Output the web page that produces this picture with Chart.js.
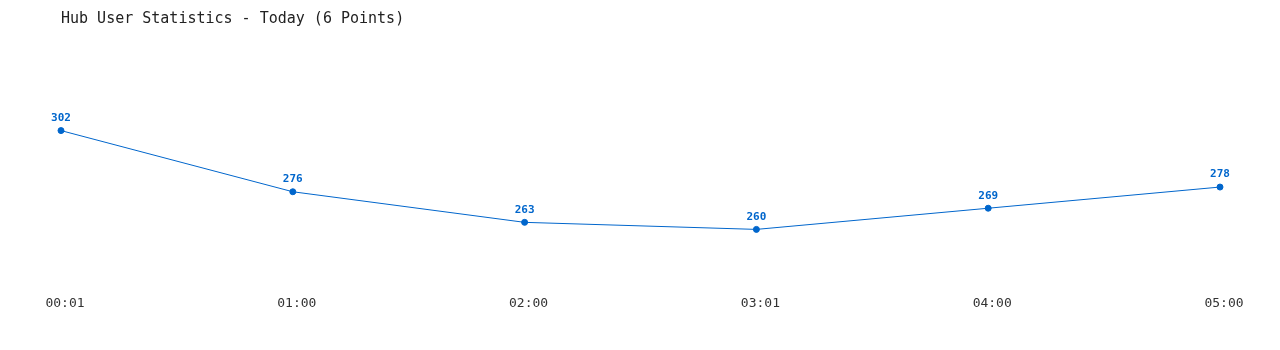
<!DOCTYPE html>
<html>
<head>
<meta charset="utf-8">
<title>Hub User Statistics</title>
<script src="https://cdn.jsdelivr.net/npm/chart.js@4/dist/chart.umd.min.js"></script>
<style>
  html, body { margin: 0; padding: 0; background: #fff; }
  #wrap { width: 1280px; height: 350px; }
</style>
</head>
<body>
<div id="wrap"><canvas id="hubChart" width="1280" height="350"></canvas></div>
<script>
// chart data
const timeLabels = ['00:01', '01:00', '02:00', '03:01', '04:00', '05:00'];
const userCounts = [302, 276, 263, 260, 269, 278];
const chartTitle = 'Hub User Statistics - Today (6 Points)';

const LINE_BLUE = '#0066cc';

// draws the value above each point
const pointValues = {
  id: 'pointValues',
  afterDatasetsDraw(chart) {
    const ctx = chart.ctx;
    const meta = chart.getDatasetMeta(0);
    ctx.save();
    ctx.font = 'bold 11px "DejaVu Sans Mono", monospace';
    ctx.fillStyle = LINE_BLUE;
    ctx.textAlign = 'center';
    ctx.textBaseline = 'bottom';
    meta.data.forEach((pt, i) => {
      ctx.fillText(String(userCounts[i]), pt.x, pt.y - 7);
    });
    ctx.restore();
  }
};

const ctx = document.getElementById('hubChart').getContext('2d');
new Chart(ctx, {
  type: 'line',
  data: {
    labels: timeLabels,
    datasets: [{
      data: userCounts,
      borderColor: LINE_BLUE,
      backgroundColor: LINE_BLUE,
      borderWidth: 1,
      pointRadius: 3,
      pointHoverRadius: 3,
      tension: 0,
      fill: false
    }]
  },
  options: {
    responsive: false,
    animation: false,
    layout: {
      padding: { left: 61, right: 60, top: 0, bottom: 33 }
    },
    plugins: {
      legend: { display: false },
      tooltip: { enabled: false },
      title: {
        display: true,
        text: chartTitle,
        align: 'start',
        color: '#222',
        font: { family: '"DejaVu Sans Mono", monospace', size: 15, weight: 'normal' },
        padding: { top: 10, bottom: 36 }
      }
    },
    scales: {
      x: {
        offset: false,
        grid: { display: false },
        border: { display: false },
        ticks: {
          color: '#333',
          padding: 6,
          labelOffset: 4,
          maxRotation: 0,
          font: { family: '"DejaVu Sans Mono", monospace', size: 13 }
        }
      },
      y: {
        display: false,
        min: 237.9,
        max: 330.3
      }
    }
  },
  plugins: [pointValues]
});
</script>
</body>
</html>
